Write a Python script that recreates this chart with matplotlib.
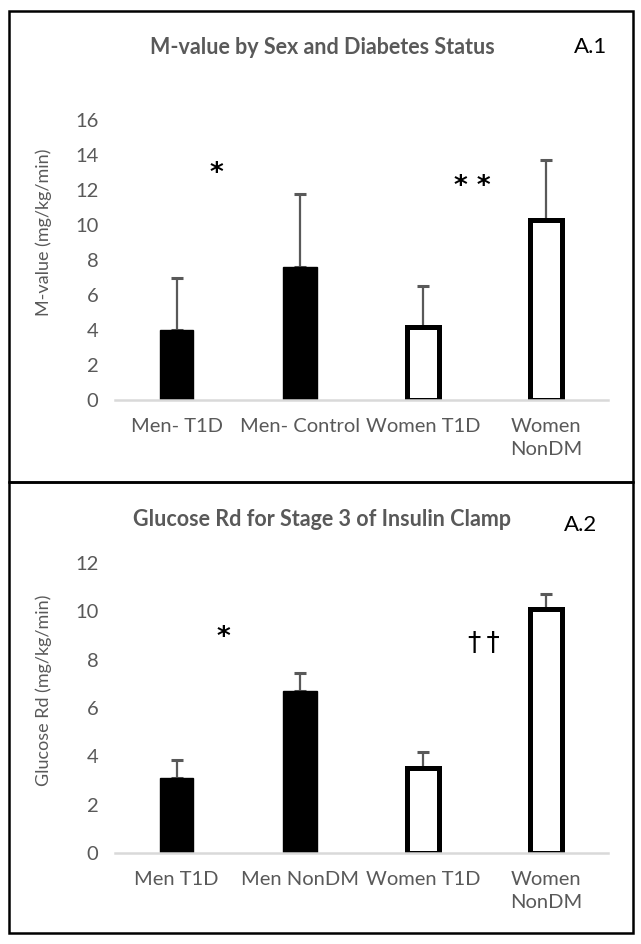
import matplotlib.pyplot as plt
from matplotlib.patches import Rectangle

plt.rcParams['font.family'] = ['Lato', 'DejaVu Sans']

# panel A.1
m_groups = ['Men- T1D', 'Men- Control', 'Women T1D', 'Women\nNonDM']
m_values = [4.0, 7.6, 4.2, 10.3]
m_err = [3.0, 4.15, 2.3, 3.4]

# panel A.2
g_groups = ['Men T1D', 'Men NonDM', 'Women T1D', 'Women\nNonDM']
g_values = [3.1, 6.7, 3.5, 10.1]
g_err = [0.75, 0.75, 0.7, 0.6]

filled = [True, True, False, False]
grey = '#595959'

W, H = 641, 944
fig = plt.figure(figsize=(W / 100, H / 100), dpi=100)


def px(x0, y0, x1, y1):
    # pixel box -> figure fraction [left, bottom, width, height]
    return [x0 / W, 1 - y1 / H, (x1 - x0) / W, (y1 - y0) / H]


def panel(rect, groups, values, err, ymax, ylabel, label_y, title, tag, title_y, tag_xy, marks):
    ax = fig.add_axes(rect)
    xs = range(len(groups))
    for x, v, e, f in zip(xs, values, err, filled):
        if f:
            ax.bar(x, v, width=0.27, color='black', edgecolor='black', linewidth=1, zorder=2)
        else:
            ax.bar(x, v, width=0.26, color='white', edgecolor='black', linewidth=3.6, zorder=2)
        ax.errorbar(x, v, yerr=[[0], [e]], fmt='none', ecolor=grey,
                    elinewidth=1.6, capsize=4, capthick=2.2, zorder=1)
    ax.set_xlim(-0.5, len(groups) - 0.5)
    ax.set_ylim(0, ymax)
    ax.set_yticks(range(0, ymax + 1, 2))
    ax.set_xticks(list(xs))
    ax.set_xticklabels(groups, fontsize=14.5, color=grey, linespacing=1.45, va='top')
    ax.tick_params(axis='both', length=0, colors=grey, labelsize=14.5)
    ax.tick_params(axis='x', pad=13)
    ax.tick_params(axis='y', pad=12)
    for s in ['top', 'right', 'left']:
        ax.spines[s].set_visible(False)
    ax.spines['bottom'].set_color('#d9d9d9')
    ax.spines['bottom'].set_linewidth(1.8)
    ax.set_ylabel(ylabel, fontsize=13, color=grey)
    ax.yaxis.set_label_coords(-0.127, label_y)
    for (mx, my, txt, wt) in marks:
        ax.text(mx, my, txt, fontsize=19, fontweight=wt, ha='center', va='center',
                family='DejaVu Sans')
    fig.text(322 / W, 1 - title_y / H, title, fontsize=15.5, fontweight='bold',
             color=grey, ha='center', va='center')
    fig.text(tag_xy[0] / W, 1 - tag_xy[1] / H, tag, fontsize=16, ha='center', va='center')
    return ax


panel(px(115, 120, 608, 400), m_groups, m_values, m_err, 16,
      'M-value (mg/kg/min)', 0.6, 'M-value by Sex and Diabetes Status', 'A.1', 47, (591, 47),
      [(0.32, 12.9, '*', 'bold'), (2.40, 12.2, '* *', 'bold')])
panel(px(115, 563, 608, 853), g_groups, g_values, g_err, 12,
      'Glucose Rd (mg/kg/min)', 0.56, 'Glucose Rd for Stage 3 of Insulin Clamp', 'A.2', 520,
      (581, 525),
      [(0.38, 8.9, '*', 'bold'), (2.49, 8.64, '\u2020\u2009\u2020', 'normal')])

# frames around each panel
for (y0, y1) in [(11, 482), (482, 933)]:
    fig.patches.append(Rectangle((9 / W, 1 - y1 / H), 624 / W, (y1 - y0) / H,
                                 transform=fig.transFigure, fill=False,
                                 edgecolor='black', linewidth=1.8))

fig.savefig('out.png', dpi=100)
